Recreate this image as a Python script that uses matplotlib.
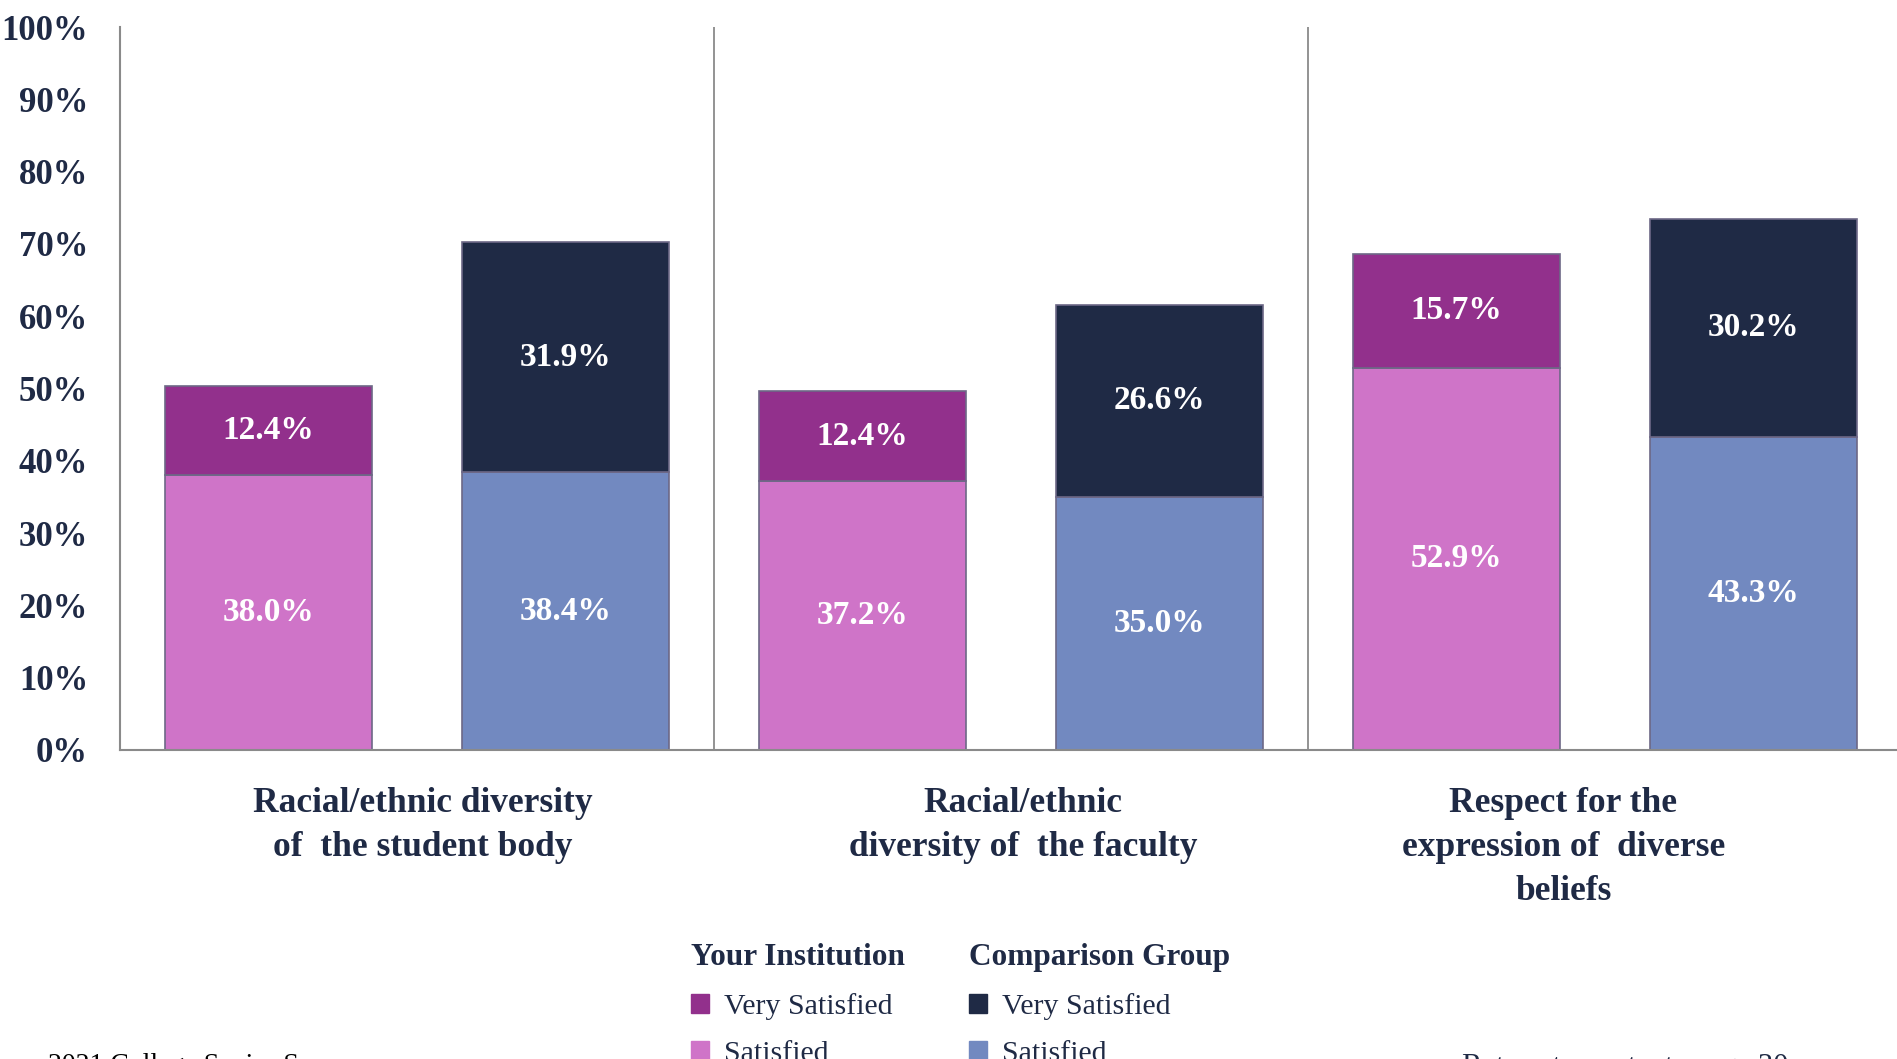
import matplotlib
matplotlib.use("Agg")
import matplotlib.pyplot as plt
from matplotlib.patches import Patch
import numpy as np

plt.rcParams['font.family'] = ['Liberation Serif', 'DejaVu Serif']

categories = ["Racial/ethnic diversity\nof  the student body",
              "Racial/ethnic\ndiversity of  the faculty",
              "Respect for the\nexpression of  diverse\nbeliefs"]
inst_satisfied = [38.0, 37.2, 52.9]
inst_very = [12.4, 12.4, 15.7]
comp_satisfied = [38.4, 35.0, 43.3]
comp_very = [31.9, 26.6, 30.2]
yticks = [0, 10, 20, 30, 40, 50, 60, 70, 80, 90, 100]

navy = '#1F2A45'
c_inst_very = '#92308C'
c_inst_sat = '#CF74C8'
c_comp_very = '#1F2A45'
c_comp_sat = '#7289C0'
edge = '#6d6886'

fig = plt.figure(figsize=(18.97, 10.59), dpi=100)
ax = fig.add_axes([120/1897, 1-750/1059, 1782/1897, 723/1059])

x = np.arange(len(categories))
w = 0.35
off = 0.25

b1 = ax.bar(x - off, inst_satisfied, w, color=c_inst_sat, edgecolor=edge, linewidth=1.2)
b2 = ax.bar(x - off, inst_very, w, bottom=inst_satisfied, color=c_inst_very, edgecolor=edge, linewidth=1.2)
b3 = ax.bar(x + off, comp_satisfied, w, color=c_comp_sat, edgecolor=edge, linewidth=1.2)
b4 = ax.bar(x + off, comp_very, w, bottom=comp_satisfied, color=c_comp_very, edgecolor=edge, linewidth=1.2)

for bars in (b1, b2, b3, b4):
    ax.bar_label(bars, labels=[f"{b.get_height():.1f}%" for b in bars], label_type='center',
                 color='white', fontsize=24, fontweight='bold')

ax.set_xlim(-0.5, 2.5)
ax.set_ylim(0, 100)
ax.set_yticks(yticks)
ax.set_yticklabels([f"{v}%" for v in yticks], fontsize=25, fontweight='bold', color=navy)
ax.set_xticks([])
ax.tick_params(axis='both', length=0)
ax.tick_params(axis='y', pad=23)

# category labels (Excel centres them slightly off the group centre)
label_shift = [0.01, 0.02, -0.07]
for i, cat in enumerate(categories):
    ax.text(i + label_shift[i], -0.051, cat, transform=ax.get_xaxis_transform(),
            ha='center', va='top', fontsize=25.5, fontweight='bold', color=navy,
            linespacing=1.45)

for s in ('top', 'right'):
    ax.spines[s].set_visible(False)
for s in ('left', 'bottom'):
    ax.spines[s].set_color('#8a8a8a')
    ax.spines[s].set_linewidth(1.5)
for xv in (0.5, 1.5):
    ax.axvline(xv, color='#8a8a8a', linewidth=1.3)

leg_kw = dict(loc='upper left', frameon=False, fontsize=21.5, handlelength=0.6, handleheight=0.6,
              handletextpad=0.5, labelspacing=0.7, alignment='left',
              title_fontproperties={'weight': 'bold', 'size': 22.5})
leg1 = fig.legend(handles=[Patch(color=c_inst_very, label='Very Satisfied'),
                           Patch(color=c_inst_sat, label='Satisfied')],
                  title='Your Institution', bbox_to_anchor=(664/1897, 1-916/1059), **leg_kw)
leg2 = fig.legend(handles=[Patch(color=c_comp_very, label='Very Satisfied'),
                           Patch(color=c_comp_sat, label='Satisfied')],
                  title='Comparison Group', bbox_to_anchor=(942/1897, 1-916/1059), **leg_kw)
for leg in (leg1, leg2):
    leg.get_title().set_color(navy)
    for t in leg.get_texts():
        t.set_color(navy)

fig.text(48/1897, 1-1053/1059, "2021 College Senior Survey", fontsize=20, color='black', va='top', ha='left')
fig.text(1788/1897, 1-1053/1059, "Return to contents page 30", fontsize=22, color=navy, va='top', ha='right')

fig.savefig("out.png", dpi=100)
